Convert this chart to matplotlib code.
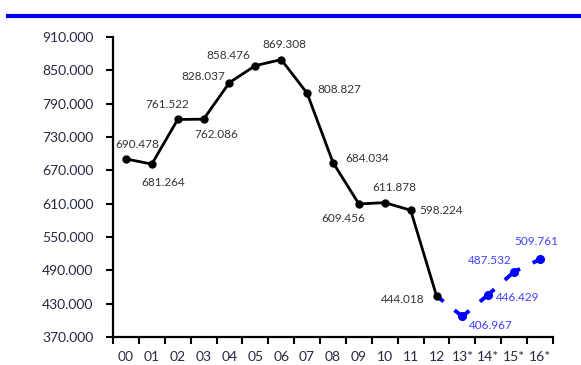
import numpy as np
import matplotlib
matplotlib.use("Agg")
import matplotlib.pyplot as plt
from matplotlib.lines import Line2D

plt.rcParams["font.family"] = ["Lato", "DejaVu Sans"]

# yearly values (actual) and projections (marked with *)
years = ["00", "01", "02", "03", "04", "05", "06", "07", "08", "09",
         "10", "11", "12", "13*", "14*", "15*", "16*"]
actual = [690.478, 681.264, 761.522, 762.086, 828.037, 858.476, 869.308,
          808.827, 684.034, 609.456, 611.878, 598.224, 444.018]
projected = [444.018, 406.967, 446.429, 487.532, 509.761]

# label placement per point: (dx px, dy px, ha)
actual_lbl = [(11, 14, "center"), (11, -18, "center"), (-10, 15, "center"),
              (13, -15, "center"), (-4, 6, "right"), (-5, 10, "right"),
              (3, 15, "center"), (10, 4, "left"), (12, 4, "left"),
              (-16, -15, "center"), (10, 15, "center"), (9, 0, "left"),
              (-12, -4, "right")]
proj_lbl = [None, (7, -9, "left"), (8, -3, "left"), (-3, 11, "right"),
            (-4, 18, "center")]

fig = plt.figure(figsize=(5.81, 3.65), dpi=100)
ax = fig.add_axes([113 / 581, 28 / 365, 440 / 581, 300 / 365])

x = np.arange(len(years))
xa = x[:len(actual)]
xp = x[len(actual) - 1:]

ax.plot(xa, actual, color="black", lw=2.0, marker="o", ms=5, zorder=3)

# dashed projection, dash lengths given in pixels then scaled to points/lw
lw = 2.8
k = 72 / 100 / lw
ax.plot(xp, projected, color="#0000ff", lw=lw,
        linestyle=(10 * k, (19 * k, 14 * k)), zorder=2)
ax.plot(xp[1:], projected[1:], ls="none", marker="o", ms=5.5,
        color="#0000ff", zorder=2)

for xi, v, (dx, dy, ha) in zip(xa, actual, actual_lbl):
    ax.annotate(f"{v:.3f}", (xi, v), xytext=(dx, dy),
                textcoords="offset pixels", ha=ha, va="center",
                fontsize=8.5, color="#333333")
for xi, v, lb in zip(xp, projected, proj_lbl):
    if lb is None:
        continue
    dx, dy, ha = lb
    ax.annotate(f"{v:.3f}", (xi, v), xytext=(dx, dy),
                textcoords="offset pixels", ha=ha, va="center",
                fontsize=8.5, color="#4040ff")

ax.set_xlim(-0.5, len(years) - 0.5)
ax.set_ylim(370, 910)
yt = np.arange(370, 911, 60)
ax.set_yticks(yt)
ax.set_yticklabels([f"{v:.3f}" for v in yt])

# ticks sit between categories, labels at the centers
ax.set_xticks(np.arange(-0.5, len(years)))
ax.set_xticklabels([])
ax.set_xticks(x, minor=True)
ax.set_xticklabels(years, minor=True)
ax.tick_params(axis="x", which="minor", length=0, pad=10)
ax.tick_params(axis="x", which="major", length=5, width=1.5, direction="out")
ax.tick_params(axis="y", length=5, width=1.5, direction="out", pad=9)
ax.tick_params(axis="both", which="both", labelsize=10, labelcolor="#262a40")

for s in ("top", "right"):
    ax.spines[s].set_visible(False)
for s in ("left", "bottom"):
    ax.spines[s].set_linewidth(1.6)

# header rule across the top
fig.add_artist(Line2D([8 / 581, 1.0], [1 - 16 / 365, 1 - 16 / 365],
                      color="#0000ee", lw=3, transform=fig.transFigure))

fig.savefig("out.png", dpi=100)
